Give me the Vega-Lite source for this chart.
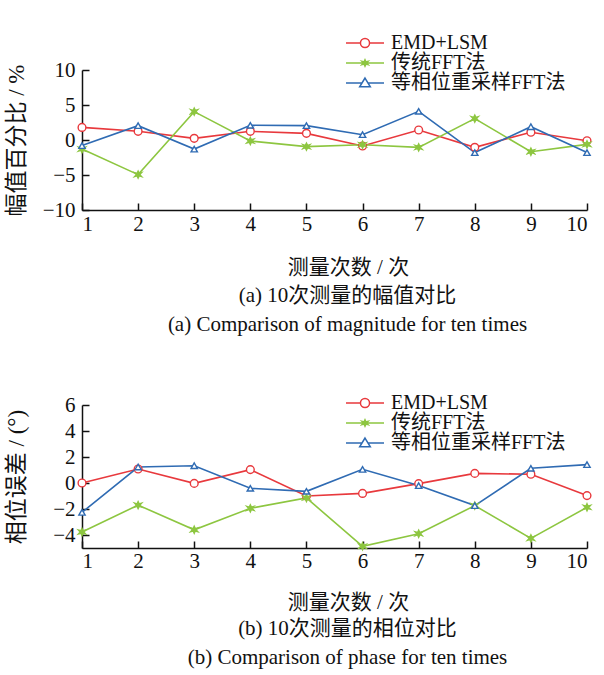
{
  "$schema": "https://vega.github.io/schema/vega-lite/v6.json",
  "background": "white",
  "padding": {"left": 5, "right": 5, "top": 33, "bottom": 5},
  "config": {
    "font": "'Liberation Serif', 'Noto Sans CJK SC', serif",
    "view": {"stroke": null},
    "axis": {
      "grid": false,
      "domainColor": "#111111",
      "domainWidth": 1.5,
      "tickColor": "#111111",
      "tickWidth": 1.5,
      "tickSize": -7,
      "labelColor": "#111111",
      "titleColor": "#111111",
      "labelFontSize": 21,
      "titleFontSize": 21,
      "titleFontWeight": "normal",
      "labelFont": "'Liberation Serif', serif",
      "titleFont": "'Liberation Serif', 'Noto Sans CJK SC', serif"
    },
    "title": {"font": "'Liberation Serif', 'Noto Sans CJK SC', serif", "fontWeight": "normal", "color": "#111111", "subtitleColor": "#111111", "subtitleFont": "'Liberation Serif', serif"},
    "concat": {"spacing": 58}
  },
  "datasets": {
    "mag": [
      {"n": 1, "series": "EMD+LSM", "v": 1.8}, {"n": 2, "series": "EMD+LSM", "v": 1.24}, {"n": 3, "series": "EMD+LSM", "v": 0.24}, {"n": 4, "series": "EMD+LSM", "v": 1.24}, {"n": 5, "series": "EMD+LSM", "v": 0.95},
      {"n": 6, "series": "EMD+LSM", "v": -0.86}, {"n": 7, "series": "EMD+LSM", "v": 1.43}, {"n": 8, "series": "EMD+LSM", "v": -1.05}, {"n": 9, "series": "EMD+LSM", "v": 1.1}, {"n": 10, "series": "EMD+LSM", "v": -0.1},
      {"n": 1, "series": "传统FFT法", "v": -1.3}, {"n": 2, "series": "传统FFT法", "v": -4.95}, {"n": 3, "series": "传统FFT法", "v": 4.05}, {"n": 4, "series": "传统FFT法", "v": -0.14}, {"n": 5, "series": "传统FFT法", "v": -0.95},
      {"n": 6, "series": "传统FFT法", "v": -0.67}, {"n": 7, "series": "传统FFT法", "v": -1.05}, {"n": 8, "series": "传统FFT法", "v": 3.05}, {"n": 9, "series": "传统FFT法", "v": -1.67}, {"n": 10, "series": "传统FFT法", "v": -0.62},
      {"n": 1, "series": "等相位重采样FFT法", "v": -0.8}, {"n": 2, "series": "等相位重采样FFT法", "v": 2.05}, {"n": 3, "series": "等相位重采样FFT法", "v": -1.3}, {"n": 4, "series": "等相位重采样FFT法", "v": 2.1}, {"n": 5, "series": "等相位重采样FFT法", "v": 2.05},
      {"n": 6, "series": "等相位重采样FFT法", "v": 0.76}, {"n": 7, "series": "等相位重采样FFT法", "v": 4.1}, {"n": 8, "series": "等相位重采样FFT法", "v": -1.8}, {"n": 9, "series": "等相位重采样FFT法", "v": 1.9}, {"n": 10, "series": "等相位重采样FFT法", "v": -1.8}
    ],
    "phase": [
      {"n": 1, "series": "EMD+LSM", "v": 0}, {"n": 2, "series": "EMD+LSM", "v": 1.08}, {"n": 3, "series": "EMD+LSM", "v": -0.03}, {"n": 4, "series": "EMD+LSM", "v": 1.03}, {"n": 5, "series": "EMD+LSM", "v": -1.0},
      {"n": 6, "series": "EMD+LSM", "v": -0.8}, {"n": 7, "series": "EMD+LSM", "v": -0.05}, {"n": 8, "series": "EMD+LSM", "v": 0.74}, {"n": 9, "series": "EMD+LSM", "v": 0.67}, {"n": 10, "series": "EMD+LSM", "v": -0.97},
      {"n": 1, "series": "传统FFT法", "v": -3.77}, {"n": 2, "series": "传统FFT法", "v": -1.7}, {"n": 3, "series": "传统FFT法", "v": -3.6}, {"n": 4, "series": "传统FFT法", "v": -1.95}, {"n": 5, "series": "传统FFT法", "v": -1.15},
      {"n": 6, "series": "传统FFT法", "v": -4.87}, {"n": 7, "series": "传统FFT法", "v": -3.9}, {"n": 8, "series": "传统FFT法", "v": -1.74}, {"n": 9, "series": "传统FFT法", "v": -4.26}, {"n": 10, "series": "传统FFT法", "v": -1.87},
      {"n": 1, "series": "等相位重采样FFT法", "v": -2.26}, {"n": 2, "series": "等相位重采样FFT法", "v": 1.23}, {"n": 3, "series": "等相位重采样FFT法", "v": 1.33}, {"n": 4, "series": "等相位重采样FFT法", "v": -0.41}, {"n": 5, "series": "等相位重采样FFT法", "v": -0.64},
      {"n": 6, "series": "等相位重采样FFT法", "v": 1.05}, {"n": 7, "series": "等相位重采样FFT法", "v": -0.2}, {"n": 8, "series": "等相位重采样FFT法", "v": -1.74}, {"n": 9, "series": "等相位重采样FFT法", "v": 1.13}, {"n": 10, "series": "等相位重采样FFT法", "v": 1.41}
    ]
  },
  "resolve": {"legend": {"color": "independent"}},
  "vconcat": [
    {
      "width": 505,
      "height": 140,
      "data": {"name": "mag"},
      "title": {"text": "(a)  10次测量的幅值对比", "subtitle": "(a)  Comparison of magnitude for ten times", "orient": "bottom", "anchor": "middle", "dx": 13, "fontSize": 21, "subtitleFontSize": 21, "offset": 8, "subtitlePadding": 8},
      "encoding": {
        "x": {"field": "n", "type": "quantitative", "scale": {"domain": [1, 10], "nice": false}, "axis": {"values": [1, 2, 3, 4, 5, 6, 7, 8, 9, 10], "title": "测量次数 / 次", "titleX": 266, "titlePadding": 22, "labelPadding": 10}},
        "y": {"field": "v", "type": "quantitative", "scale": {"domain": [-10, 10], "nice": false}, "axis": {"values": [-10, -5, 0, 5, 10], "title": "幅值百分比 / %", "titleFontSize": 23, "labelPadding": 14, "minExtent": 49, "maxExtent": 49, "titlePadding": 5}}
      },
      "layer": [
        {
          "mark": {"type": "line", "strokeWidth": 1.6},
          "encoding": {
            "color": {"field": "series", "type": "nominal", "sort": null, "scale": {"domain": ["EMD+LSM", "传统FFT法", "等相位重采样FFT法"], "range": ["#e8393d", "#8dc640", "#2f6bb3"]},
              "legend": {"title": null, "orient": "none", "legendX": 263, "legendY": -37, "symbolSize": 1444, "symbolStrokeWidth": 1.5, "labelFontSize": 20, "labelColor": "#111111", "labelOffset": 6, "labelLimit": 0, "clipHeight": 20, "rowPadding": 0, "labelFont": "'Liberation Serif', 'Noto Sans CJK SC', serif",
                "encode": {"symbols": {"update": {
                  "shape": {"signal": "datum.value === 'EMD+LSM' ? 'M-1,0H-0.24M0.24,0H1M-0.24,0A0.24,0.24,0,1,1,0.24,0A0.24,0.24,0,1,1,-0.24,0Z' : datum.value === '传统FFT法' ? 'M-1,0H1M0,-0.17L0.05,-0.06L0.16,-0.09L0.08,0L0.16,0.09L0.05,0.06L0,0.17L-0.05,0.06L-0.16,0.09L-0.08,0L-0.16,-0.09L-0.05,-0.06Z' : 'M-1,0H-0.15M0.15,0H1M0,-0.26L0.28,0.2L-0.28,0.2Z'"},
                  "fill": {"signal": "datum.value === '传统FFT法' ? '#8dc640' : 'white'"},
                  "opacity": {"value": 1}
                }}}}}
          }
        },
        {
          "mark": {"type": "point", "filled": true, "opacity": 1, "strokeWidth": 1.4},
          "encoding": {
            "shape": {"field": "series", "type": "nominal", "scale": {"domain": ["EMD+LSM", "传统FFT法", "等相位重采样FFT法"], "range": ["circle", "M0,-1L0.3,-0.35L1,-0.55L0.5,0L1,0.55L0.3,0.35L0,1L-0.3,0.35L-1,0.55L-0.5,0L-1,-0.55L-0.3,-0.35Z", "triangle-up"]}, "legend": null},
            "fill": {"field": "series", "type": "nominal", "scale": {"domain": ["EMD+LSM", "传统FFT法", "等相位重采样FFT法"], "range": ["white", "#8dc640", "white"]}, "legend": null},
            "stroke": {"field": "series", "type": "nominal", "scale": {"domain": ["EMD+LSM", "传统FFT法", "等相位重采样FFT法"], "range": ["#e8393d", "#8dc640", "#2f6bb3"]}, "legend": null},
            "size": {"field": "series", "type": "ordinal", "scale": {"domain": ["EMD+LSM", "传统FFT法", "等相位重采样FFT法"], "range": [60, 40, 85]}, "legend": null}
          }
        }
      ]
    },
    {
      "width": 505,
      "height": 143,
      "data": {"name": "phase"},
      "title": {"text": "(b)  10次测量的相位对比", "subtitle": "(b)  Comparison of phase for ten times", "orient": "bottom", "anchor": "middle", "dx": 13, "fontSize": 21, "subtitleFontSize": 21, "offset": 6, "subtitlePadding": 8},
      "encoding": {
        "x": {"field": "n", "type": "quantitative", "scale": {"domain": [1, 10], "nice": false}, "axis": {"values": [1, 2, 3, 4, 5, 6, 7, 8, 9, 10], "title": "测量次数 / 次", "titleX": 266, "titlePadding": 20, "labelPadding": 9}},
        "y": {"field": "v", "type": "quantitative", "scale": {"domain": [-5, 6], "nice": false}, "axis": {"values": [-4, -2, 0, 2, 4, 6], "title": "相位误差 / (°)", "titleFontSize": 23, "labelPadding": 14, "minExtent": 49, "maxExtent": 49, "titlePadding": 5}}
      },
      "layer": [
        {
          "mark": {"type": "line", "strokeWidth": 1.6},
          "encoding": {
            "color": {"field": "series", "type": "nominal", "sort": null, "scale": {"domain": ["EMD+LSM", "传统FFT法", "等相位重采样FFT法"], "range": ["#e8393d", "#8dc640", "#2f6bb3"]},
              "legend": {"title": null, "orient": "none", "legendX": 263, "legendY": -12, "symbolSize": 1444, "symbolStrokeWidth": 1.5, "labelFontSize": 20, "labelColor": "#111111", "labelOffset": 6, "labelLimit": 0, "clipHeight": 20, "rowPadding": 0, "labelFont": "'Liberation Serif', 'Noto Sans CJK SC', serif",
                "encode": {"symbols": {"update": {
                  "shape": {"signal": "datum.value === 'EMD+LSM' ? 'M-1,0H-0.24M0.24,0H1M-0.24,0A0.24,0.24,0,1,1,0.24,0A0.24,0.24,0,1,1,-0.24,0Z' : datum.value === '传统FFT法' ? 'M-1,0H1M0,-0.17L0.05,-0.06L0.16,-0.09L0.08,0L0.16,0.09L0.05,0.06L0,0.17L-0.05,0.06L-0.16,0.09L-0.08,0L-0.16,-0.09L-0.05,-0.06Z' : 'M-1,0H-0.15M0.15,0H1M0,-0.26L0.28,0.2L-0.28,0.2Z'"},
                  "fill": {"signal": "datum.value === '传统FFT法' ? '#8dc640' : 'white'"},
                  "opacity": {"value": 1}
                }}}}}
          }
        },
        {
          "mark": {"type": "point", "filled": true, "opacity": 1, "strokeWidth": 1.4},
          "encoding": {
            "shape": {"field": "series", "type": "nominal", "scale": {"domain": ["EMD+LSM", "传统FFT法", "等相位重采样FFT法"], "range": ["circle", "M0,-1L0.3,-0.35L1,-0.55L0.5,0L1,0.55L0.3,0.35L0,1L-0.3,0.35L-1,0.55L-0.5,0L-1,-0.55L-0.3,-0.35Z", "triangle-up"]}, "legend": null},
            "fill": {"field": "series", "type": "nominal", "scale": {"domain": ["EMD+LSM", "传统FFT法", "等相位重采样FFT法"], "range": ["white", "#8dc640", "white"]}, "legend": null},
            "stroke": {"field": "series", "type": "nominal", "scale": {"domain": ["EMD+LSM", "传统FFT法", "等相位重采样FFT法"], "range": ["#e8393d", "#8dc640", "#2f6bb3"]}, "legend": null},
            "size": {"field": "series", "type": "ordinal", "scale": {"domain": ["EMD+LSM", "传统FFT法", "等相位重采样FFT法"], "range": [60, 40, 85]}, "legend": null}
          }
        }
      ]
    }
  ]
}
